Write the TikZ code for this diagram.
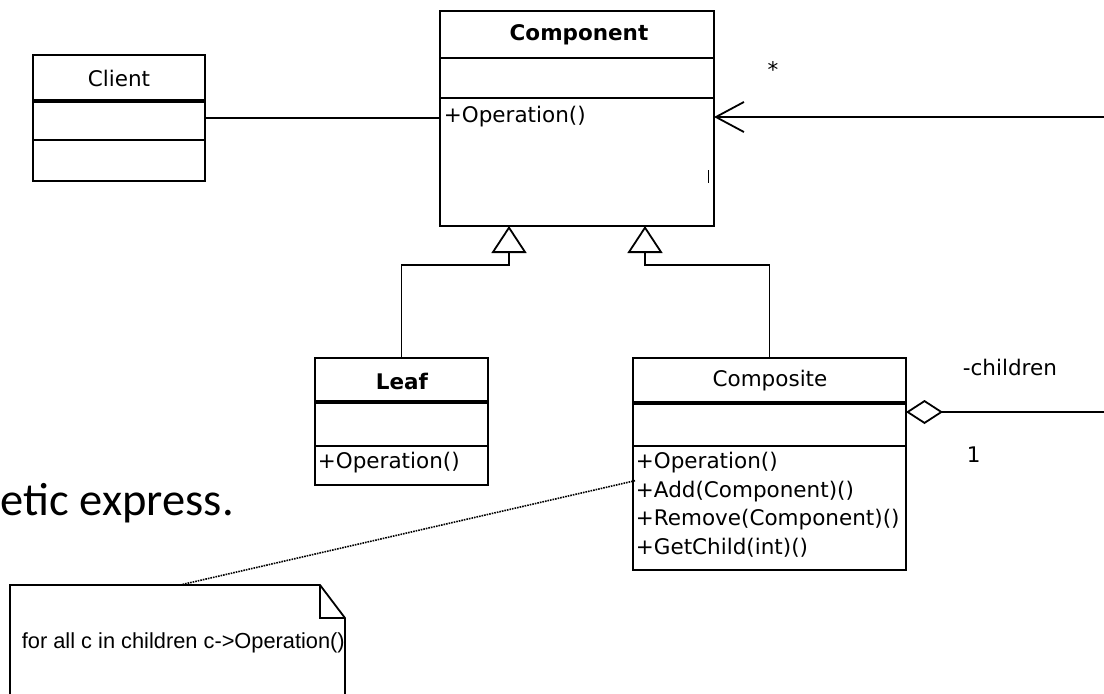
\documentclass[tikz,border=0pt]{standalone}
\usepackage{fontspec}
\setmainfont{DejaVu Sans}
\newfontfamily\notefont{Liberation Sans}
\newfontfamily\slidefont{Carlito}
\usetikzlibrary{arrows.meta}

\begin{document}
\begin{tikzpicture}[x=1pt,y=-1pt,line width=1.8pt,
	class/.style={draw,anchor=north west,inner sep=0pt,outer sep=0pt},
	title/.style={inner sep=0pt,font=\fontsize{21.5}{24}\selectfont},
	member/.style={anchor=west,inner sep=0pt,font=\fontsize{21.5}{24}\selectfont},
	headsep/.style={line width=3.4pt},
	gen/.style={-{Triangle[open,length=27pt,width=35pt]}},
	agg/.style={-{Diamond[open,length=37pt,width=24pt]}}]

	\useasboundingbox (0,0) rectangle (1104,694);

	\node (client) at (33,55) [class,minimum width=172pt,minimum height=126pt] {};
	\node (component) at (440,11) [class,minimum width=274pt,minimum height=215pt] {};
	\node (leaf) at (315,358) [class,minimum width=173pt,minimum height=127pt] {};
	\node (composite) at (633,358) [class,minimum width=273pt,minimum height=212pt] {};

	% compartments
	\draw[headsep] (33,101) -- (205,101);
	\draw (33,140) -- (205,140);
	\draw (440,58) -- (714,58);
	\draw (440,98) -- (714,98);
	\draw[line width=1pt] (708,170) -- (708,183);
	\draw[headsep] (315,402) -- (488,402);
	\draw (315,446) -- (488,446);
	\draw[headsep] (633,403) -- (906,403);
	\draw (633,446) -- (906,446);

	\node (clientname) at (119,78) [title] {Client};
	\node (componentname) at (579,35) [title] {\bfseries Component};
	\node (leafname) at (402,381) [title] {\bfseries Leaf};
	\node (compositename) at (770,381) [title] {Composite};

	\node (op1) at (443,117) [member] {+Operation()};
	\node (op2) at (317,463) [member] {+Operation()};
	\node (op3) at (635,463) [member] {+Operation()};
	\node (add) at (635,492) [member] {+Add(Component)()};
	\node (remove) at (635,520) [member] {+Remove(Component)()};
	\node (getchild) at (635,548) [member] {+GetChild(int)()};

	\coordinate (leafbend) at (509,265);
	\coordinate (compbend) at (645,265);
	\coordinate (outer) at (1104,117);
	\coordinate (childrenend) at (1104,412);
	\coordinate (notetop) at (180,585);

	\draw (client.east) -- (client.east -| component.west);
	\draw[gen] (leaf.north) |- (leafbend) -- (leafbend |- component.south);
	\draw[gen] (composite.north) |- (compbend) -- (compbend |- component.south);
	\draw[-{Straight Barb[length=28pt,width=30pt]}] (outer) -- (outer -| component.east);
	\draw[agg] (childrenend) -- (childrenend -| composite.east);

	\node (star) at (773,70) [title] {*};
	\node (children) at (962,367) [member] {-children};
	\node (one) at (966,455) [member] {1};

	% note
	\draw (10,700) -- (10,585) -- (320,585) -- (345,618) -- (345,700);
	\draw (320,585) |- (345,618);
	\node (note) at (21,643) [anchor=west,inner sep=0pt,font=\notefont\fontsize{21.8}{25}\selectfont] {for all c in children c->Operation()};
	\draw[densely dotted,line width=1.6pt] (notetop) -- (add.north west);

	\node (slide) at (0,515) [anchor=base west,inner sep=0pt,font=\slidefont\fontsize{46.5}{56}\selectfont] {etic express.};

\end{tikzpicture}
\end{document}
